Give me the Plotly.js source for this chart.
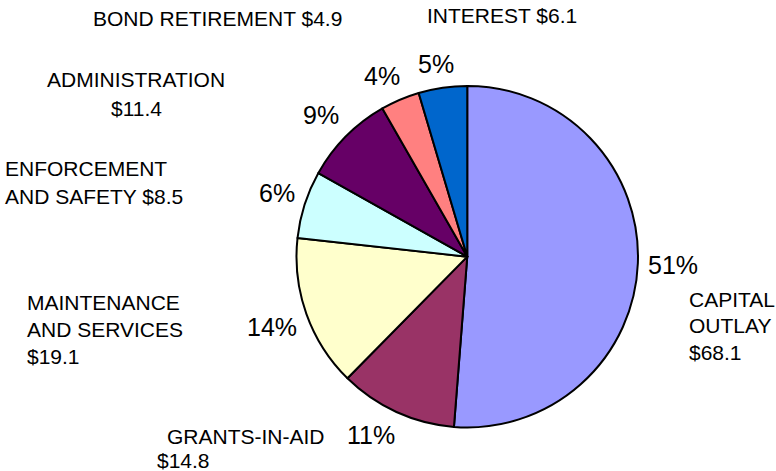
<!DOCTYPE html>
<html>
<head>
<meta charset="utf-8">
<script src="https://cdn.plot.ly/plotly-3.0.1.min.js"></script>
<style>html,body{margin:0;padding:0;background:#fff;}#chart{width:776px;height:471px;}</style>
</head>
<body>
<div id="chart"></div>
<script>
// ---- data ----
const categories = ['CAPITAL OUTLAY', 'GRANTS-IN-AID', 'MAINTENANCE AND SERVICES', 'ENFORCEMENT AND SAFETY', 'ADMINISTRATION', 'BOND RETIREMENT', 'INTEREST'];
const values = [68.1, 14.8, 19.1, 8.5, 11.4, 4.9, 6.1];
const sliceColors = ['#9999FF', '#993366', '#FFFFCC', '#CCFFFF', '#660066', '#FF8080', '#0066CC'];

// ---- layout helpers ----
const W = 776, H = 471;
const px = x => x / W;
const py = y => 1 - y / H;
const FONT = 'Liberation Sans, Arial, sans-serif';
const PCT_SIZE = 25, CAT_SIZE = 21;

// pie box in pixels
const PIE = {left: 296.5, right: 638, top: 85.8, bottom: 427.5};
const cx = (PIE.left + PIE.right) / 2, cy = (PIE.top + PIE.bottom) / 2;
const R = (PIE.right - PIE.left) / 2;
const GAP = 10;   // gap between pie edge and percent label
const HALF_H = 14; // half height of a percent label box

// line-breaking / placement of category labels (pixel positions)
const labelPlacement = [
  {i: 0, lines: [1, 1, 1], x: 687, y: [299.5, 325.5, 352.5], anchor: 'left'},
  {i: 1, lines: [1, 1], x: [165, 155], y: [436.5, 460], anchor: 'left'},
  {i: 2, lines: [1, 2, 1], x: 25, y: [302.5, 329.5, 356.5], anchor: 'left'},
  {i: 3, lines: [1, 3], x: 3, y: [168.5, 196.5], anchor: 'left'},
  {i: 4, lines: [1, 1], x: 136, y: [80, 108.5], anchor: 'center'},
  {i: 5, lines: [3], x: 91, y: [18.3], anchor: 'left'},
  {i: 6, lines: [2], x: 425, y: [15.8], anchor: 'left'}
];

const annotations = [];
labelPlacement.forEach(p => {
  const words = (categories[p.i] + ' $' + values[p.i].toFixed(1)).split(' ');
  let w = 0;
  p.lines.forEach((n, k) => {
    const txt = words.slice(w, w + n).join(' ');
    w += n;
    const xv = Array.isArray(p.x) ? p.x[k] : p.x;
    annotations.push({
      xref: 'paper', yref: 'paper', x: px(xv), y: py(p.y[k]),
      xanchor: p.anchor, yanchor: 'middle', showarrow: false,
      text: txt, font: {family: FONT, size: CAT_SIZE, color: '#000'}
    });
  });
});

// percent labels placed just outside each slice's mid-angle (clockwise from 12 o'clock)
const clamp = v => Math.max(-1, Math.min(1, v));
const total = values.reduce((a, b) => a + b, 0);
let cum = 0;
values.forEach(v => {
  const mid = (cum + v / 2) / total * 2 * Math.PI;
  cum += v;
  const ux = Math.sin(mid), uy = -Math.cos(mid);
  const txt = Math.round(v / total * 100) + '%';
  const halfW = ((txt.length - 1) * 0.556 + 0.889) * PCT_SIZE / 2;
  const lx = cx + (R + GAP) * ux + halfW * clamp(2 * ux);
  const ly = cy + (R + GAP) * uy + HALF_H * clamp(2 * uy);
  annotations.push({
    xref: 'paper', yref: 'paper', x: px(lx), y: py(ly),
    xanchor: 'center', yanchor: 'middle', showarrow: false,
    text: txt, font: {family: FONT, size: PCT_SIZE, color: '#000'}
  });
});

const trace = {
  type: 'pie',
  labels: categories,
  values: values,
  sort: false,
  direction: 'clockwise',
  rotation: 0,
  marker: {colors: sliceColors, line: {color: '#000', width: 2}},
  textinfo: 'none',
  hoverinfo: 'label+value+percent',
  domain: {x: [px(PIE.left), px(PIE.right)], y: [py(PIE.bottom), py(PIE.top)]},
  showlegend: false
};

const layout = {
  width: W, height: H,
  margin: {l: 0, r: 0, t: 0, b: 0},
  paper_bgcolor: '#fff',
  showlegend: false,
  annotations: annotations
};

Plotly.newPlot('chart', [trace], layout, {displayModeBar: false, staticPlot: true});
</script>
</body>
</html>
